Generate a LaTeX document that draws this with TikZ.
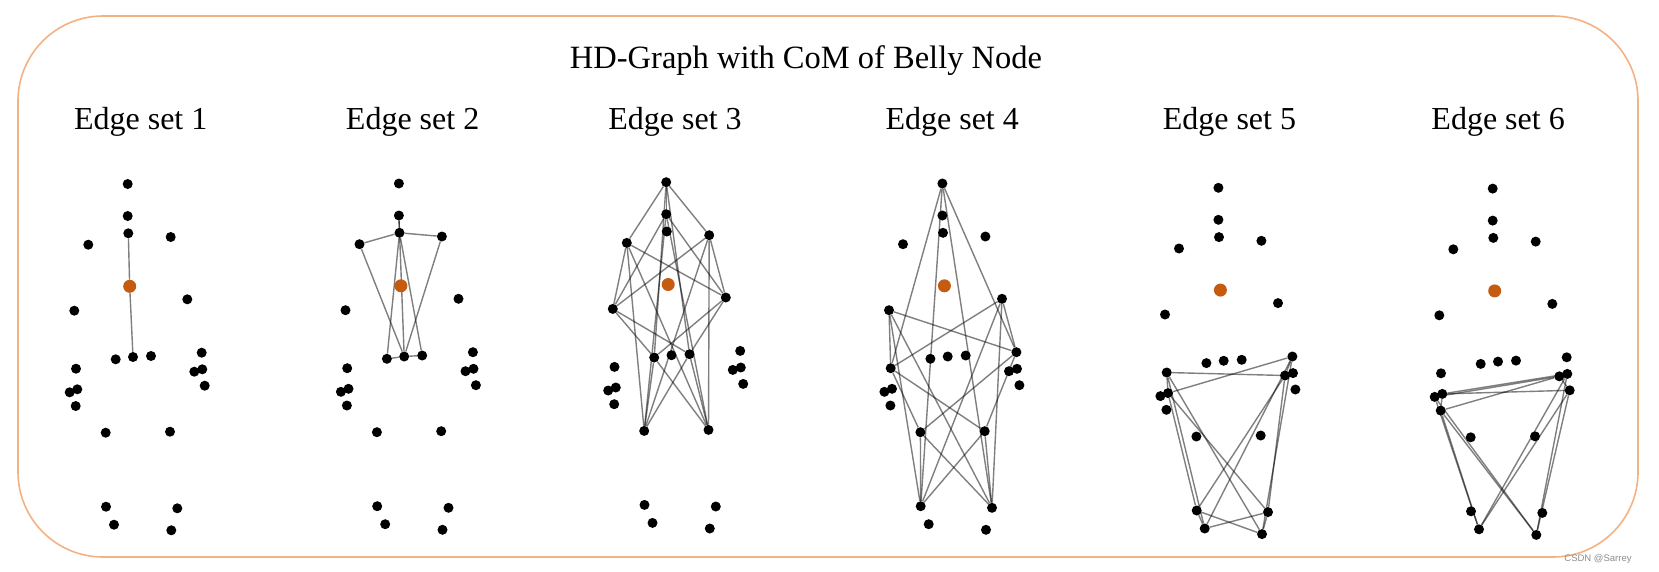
\documentclass[tikz,border=0pt]{standalone}
\usepackage{fontspec}
\setmainfont{Liberation Serif}
\newfontfamily\marksans{Liberation Sans}
\usetikzlibrary{positioning,backgrounds}
\definecolor{belly}{RGB}{197,90,17}
\definecolor{frameorange}{RGB}{244,177,131}

\begin{document}
\begin{tikzpicture}
    [x=1pt,y=-1pt,
     joint/.style={circle,fill=black,inner sep=0pt,minimum size=10pt},
     com/.style={circle,fill=belly,inner sep=0pt,minimum size=13pt},
     bone/.style={draw=black,opacity=0.5,line width=1.4pt},
     headline/.style={font=\fontsize{32}{37}\selectfont}]

    \useasboundingbox (0,0) rectangle (1659,571);
    \draw[frameorange,line width=1.6pt,rounded corners=85pt] (18,16) rectangle (1638,557);
    \node[headline,font=\fontsize{32.5}{37}\selectfont] (caption) at (806,61) {HD-Graph with CoM of Belly Node};
    \node[font=\marksans\fontsize{9.5}{10}\selectfont,text=black!45] (mark) at (1598,559) {CSDN @Sarrey};

    % one skeleton per edge set
    \foreach \p/\dx/\dy/\lx in {1/0/0/140.7,2/271.2/-0.5/412.6,3/538.5/-1.8/675,
                                4/814.7/-0.5/952.2,5/1090.7/3.8/1229.4,6/1365/4.6/1498.1}{
      \node[headline] (set\p) at (\lx,121.5) {Edge set \p};
      \foreach \n/\x/\y in {head/127.7/184, neck/127.7/216, ss/128.3/233.3,
          lsh/88.3/244.7, rsh/170.7/237, lel/74.3/310.7, rel/187.3/299.3,
          lhip/115.7/359.3, base/133/357, rhip/151/356,
          lwr/76/368.7, lhd/77.3/389.3, ltip/69.7/392.3, lthb/75.7/406,
          rwr/201.7/352.7, rhd/194.3/371.7, rtip/202.3/369.3, rthb/204.7/385.7,
          lkn/105.7/432.7, rkn/170/431.7, lank/106/506.7, lft/114/524.7,
          rank/177.3/508.3, rft/171.3/530.3}
        \node[joint] (j\p-\n) at (\x+\dx,\y+\dy) {};
      \node[com] (j\p-com) at (129.7+\dx,286.3+\dy) {};
    }

    % edges between neighbouring levels
    \begin{scope}[on background layer]
      \foreach \p/\a/\b in {1/{com}/{ss,base},
                            2/{ss,base}/{neck,lsh,rsh,lhip,rhip},
                            3/{neck,lsh,rsh,lhip,rhip}/{head,lel,rel,lkn,rkn},
                            4/{head,lel,rel,lkn,rkn}/{lwr,rwr,lank,rank},
                            5/{lwr,rwr,lank,rank}/{lhd,rhd,lft,rft},
                            6/{lhd,rhd,lft,rft}/{ltip,lthb,rtip,rthb}}
        \foreach \u in \a
          \foreach \v in \b
            \draw[bone] (j\p-\u) -- (j\p-\v);
    \end{scope}
\end{tikzpicture}
\end{document}
